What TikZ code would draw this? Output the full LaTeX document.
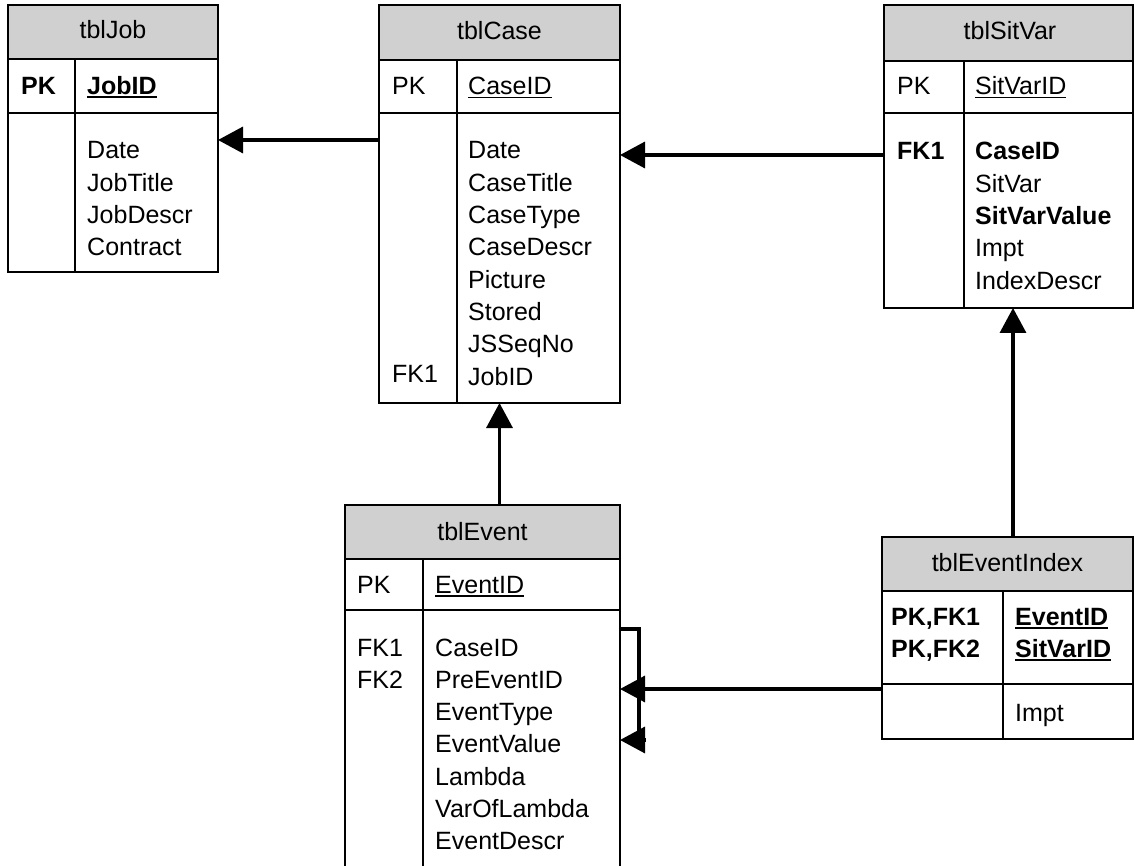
\documentclass[tikz,border=0pt]{standalone}
\usepackage{fontspec}
\setmainfont{Liberation Sans}
\usetikzlibrary{arrows.meta}
\definecolor{hdrgray}{RGB}{208,208,208}
% underlined key field
\newcommand{\keyul}[2][1.6pt]{\setbox0\hbox{#2}\rlap{\rule[-3.5pt]{\wd0}{#1}}\box0}
% stacked column entries, baseline = first row
\newcommand{\fieldlist}[1]{\vtop{\halign{##\hfil\cr#1\crcr}}}
\tikzset{
  tbl/.style={draw, line width=2pt, rectangle, inner sep=0pt, outer sep=0pt, anchor=north west},
  rowline/.style={line width=2pt},
  txt/.style={anchor=base west, inner sep=0pt, font=\fontsize{25}{32.3}\selectfont},
  ttl/.style={anchor=base, inner sep=0pt, font=\fontsize{25}{32.3}\selectfont},
  conn/.style={line width=3.4pt, -{Triangle[length=25pt,width=26pt]}},
  loopline/.style={line width=3.4pt},
}
\begin{document}
\begin{tikzpicture}[x=1pt,y=-1pt]
\useasboundingbox (0,0) rectangle (1135,866);

% ---------------- tblJob ----------------
\fill[hdrgray] (8,5) rectangle (218,59);
\node[tbl, minimum width=210pt, minimum height=267pt] (job) at (8,5) {};
\draw[rowline] (8,59) -- (218,59) (8,113) -- (218,113) (75,59) -- (75,272);
\node[ttl] (jobT) at (113,39) {tblJob};
\node[txt] (jobPK) at (21,95) {\bfseries PK};
\node[txt] (jobK) at (87,95) {\bfseries\keyul[2pt]{JobID}};
\node[txt] (jobF) at (87,159) {\fieldlist{Date\cr JobTitle\cr JobDescr\cr Contract}};

% ---------------- tblCase ----------------
\fill[hdrgray] (379,5) rectangle (620,60);
\node[tbl, minimum width=241pt, minimum height=398pt] (case) at (379,5) {};
\draw[rowline] (379,60) -- (620,60) (379,113) -- (620,113) (457,60) -- (457,403);
\node[ttl] (caseT) at (499.5,40) {tblCase};
\node[txt] (casePK) at (392,95) {PK};
\node[txt] (caseK) at (468,95) {\keyul{CaseID}};
\node[txt] (caseF) at (468,159) {\fieldlist{Date\cr CaseTitle\cr CaseType\cr CaseDescr\cr Picture\cr Stored\cr JSSeqNo\cr JobID}};
\node[txt] (caseFK) at (392,383) {FK1};

% ---------------- tblSitVar ----------------
\fill[hdrgray] (884,5) rectangle (1133,61);
\node[tbl, minimum width=249pt, minimum height=303pt] (sitvar) at (884,5) {};
\draw[rowline] (884,61) -- (1133,61) (884,113) -- (1133,113) (964,61) -- (964,308);
\node[ttl] (sitvarT) at (1010,40) {tblSitVar};
\node[txt] (sitvarPK) at (897,95) {PK};
\node[txt] (sitvarK) at (975,95) {\keyul{SitVarID}};
\node[txt] (sitvarFK) at (897,160) {\bfseries FK1};
\node[txt] (sitvarF) at (975,160) {\fieldlist{\bfseries CaseID\cr SitVar\cr \bfseries SitVarValue\cr Impt\cr IndexDescr}};

% ---------------- tblEvent ----------------
\fill[hdrgray] (345,505) rectangle (620,559);
\node[tbl, minimum width=275pt, minimum height=370pt] (event) at (345,505) {};
\draw[rowline] (345,559) -- (620,559) (345,610) -- (620,610) (423,559) -- (423,875);
\node[ttl] (eventT) at (482.5,540) {tblEvent};
\node[txt] (eventPK) at (357,593) {PK};
\node[txt] (eventK) at (435,593) {\keyul{EventID}};
\node[txt] (eventFK) at (357,656) {\fieldlist{FK1\cr FK2}};
\node[txt] (eventF) at (435,656) {\fieldlist{CaseID\cr PreEventID\cr EventType\cr EventValue\cr Lambda\cr VarOfLambda\cr EventDescr}};

% ---------------- tblEventIndex ----------------
\fill[hdrgray] (882,537) rectangle (1133,591);
\node[tbl, minimum width=251pt, minimum height=202pt] (evidx) at (882,537) {};
\draw[rowline] (882,591) -- (1133,591) (882,684) -- (1133,684) (1003,591) -- (1003,739);
\node[ttl] (evidxT) at (1007.5,571) {tblEventIndex};
\node[txt] (evidxPK) at (891,625) {\bfseries\fieldlist{PK,FK1\cr PK,FK2}};
\node[txt] (evidxK) at (1015,625) {\bfseries\fieldlist{\keyul[2pt]{EventID}\cr \keyul[2pt]{SitVarID}}};
\node[txt] (evidxF) at (1015,721) {Impt};

% ---------------- relationships ----------------
\draw[conn] (case.west |- 0,140) -- (job.east |- 0,140);
\draw[conn] (sitvar.west |- 0,155) -- (case.east |- 0,155);
\draw[conn] (event.north -| case.south) -- (case.south);
\draw[conn] (evidx.north -| 1013,0) -- (sitvar.south -| 1013,0);
\draw[conn] (evidx.west |- 0,689) -- (event.east |- 0,689);
% self reference PreEventID -> EventID
\coordinate (loopTop) at ([xshift=19pt]event.east |- 0,629);
\coordinate (loopEnd) at ([xshift=19pt]event.east |- 0,740);
\draw[loopline] (event.east |- loopTop) -- (loopTop) -- (loopEnd);
\draw[conn] ([xshift=7pt]loopEnd) -- (event.east |- loopEnd);
\end{tikzpicture}
\end{document}
